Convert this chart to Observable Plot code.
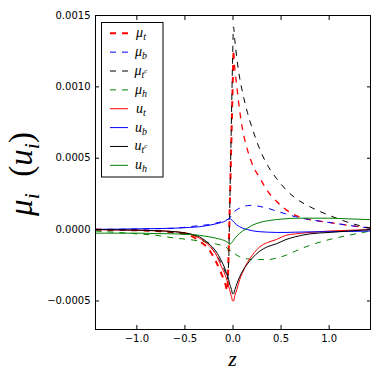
<!DOCTYPE html>
<html><head><meta charset="utf-8">
<script src="https://cdn.jsdelivr.net/npm/d3@7"></script>
<script src="https://cdn.jsdelivr.net/npm/@observablehq/plot@0.6"></script>
<style>html,body{margin:0;padding:0;background:#fff} svg{display:block}</style>
</head><body><div id="chart"></div>
<script>
// z grid shared by all series
const z = [-1.43, -1.2, -1.0, -0.8, -0.6, -0.45, -0.35, -0.25, -0.18, -0.12, -0.08, -0.06, -0.045, -0.035, -0.025, -0.015, -0.005, 0.005, 0.02, 0.04, 0.07, 0.1, 0.15, 0.2, 0.28, 0.36, 0.45, 0.55, 0.65, 0.8, 1.0, 1.2, 1.43];

const muT  = [0, -0.000003, -0.000005, -0.00001, -0.00002, -0.00004, -0.00008, -0.00014, -0.00022, -0.00031, -0.00038, -0.00043, -0.00015, 0.00012, 0.0004, 0.00068, 0.00097, 0.00124, 0.00112, 0.001, 0.00083, 0.0007, 0.00056, 0.00046, 0.00036, 0.00027, 0.0002, 0.00014, 0.0001, 0.00007, 0.00005, 0.00003, 0.00001];
const muB  = [0, 0.000002, 0.000004, 0.000006, 0.00001, 0.00002, 0.000028, 0.000035, 0.000045, 0.000055, 0.000065, 0.00007, 0.000075, 0.00008, 0.00009, 0.0001, 0.00011, 0.00012, 0.00013, 0.00014, 0.00015, 0.00016, 0.000168, 0.00017, 0.000162, 0.00015, 0.00013, 0.00011, 0.00009, 0.00007, 0.00005, 0.00003, 0.00001];
const muTc = [0, -0.000003, -0.000005, -0.00001, -0.00002, -0.00003, -0.00006, -0.00011, -0.00017, -0.00024, -0.0003, -0.00035, -0.00022, 0.00012, 0.00047, 0.00082, 0.00117, 0.00142, 0.00132, 0.0012, 0.00106, 0.00096, 0.00082, 0.00071, 0.00056, 0.00045, 0.00036, 0.00028, 0.00022, 0.00016, 0.0001, 0.00005, 0.00001];
const muH  = [-0.00001, -0.00002, -0.00003, -0.00004, -0.00006, -0.00007, -0.00008, -0.00009, -0.0001, -0.00011, -0.00012, -0.00013, -0.00014, -0.00014, -0.00015, -0.00015, -0.00016, -0.00016, -0.00017, -0.00018, -0.00019, -0.0002, -0.000205, -0.00021, -0.00021, -0.00021, -0.0002, -0.00018, -0.00015, -0.00011, -0.00007, -0.00004, -0.00001];
const uT   = [0, -0.000002, -0.000004, -0.000008, -0.000015, -0.00003, -0.00006, -0.00011, -0.00017, -0.00026, -0.00032, -0.00036, -0.0004, -0.00042, -0.00045, -0.00047, -0.0005, -0.0005, -0.00046, -0.00042, -0.00035, -0.0003, -0.00023, -0.00018, -0.00012, -0.00009, -0.00007, -0.00004, -0.00003, -0.00002, -0.00001, -0.000005, 0];
const uB   = [0.000002, 0.000003, 0.000005, 0.000007, 0.00001, 0.000015, 0.00002, 0.00003, 0.00004, 0.00005, 0.00006, 0.00007, 0.000075, 0.00008, 0.000075, 0.00007, 0.000062, 0.000055, 0.000045, 0.000032, 0.00002, 0.00001, 0, -0.000008, -0.000015, -0.000018, -0.00002, -0.00002, -0.000018, -0.000016, -0.000015, -0.000013, -0.00001];
const uTc  = [0, -0.000002, -0.000004, -0.000008, -0.000015, -0.00003, -0.00005, -0.0001, -0.00015, -0.00022, -0.00028, -0.00032, -0.00035, -0.00038, -0.0004, -0.00042, -0.00045, -0.00045, -0.00042, -0.00038, -0.00033, -0.00029, -0.00024, -0.0002, -0.00015, -0.00012, -0.0001, -0.00007, -0.00005, -0.00003, -0.00002, -0.00001, 0];
const uH   = [-0.000025, -0.000025, -0.000025, -0.000028, -0.00003, -0.000035, -0.00004, -0.00005, -0.00006, -0.00007, -0.00008, -0.000088, -0.000095, -0.000105, -0.0001, -0.000092, -0.000085, -0.000075, -0.00006, -0.000045, -0.000025, -0.00001, 0.00001, 0.00003, 0.00005, 0.000062, 0.00007, 0.000076, 0.00008, 0.00008, 0.00008, 0.000075, 0.00007];

const xTicks = [-1.0, -0.5, 0.0, 0.5, 1.0];
const yTicks = [-0.0005, 0.0, 0.0005, 0.0010, 0.0015];

// legend labels: base symbol, subscript, optional superscript on subscript
const labelBase = ["μ", "μ", "μ", "μ", "u", "u", "u", "u"];
const labelSub  = ["t", "b", "t", "h", "t", "b", "t", "h"];
const labelSup  = ["", "", "c", "", "", "", "c", ""];

const seriesValues = [muT, muB, muTc, muH, uT, uB, uTc, uH];
const seriesColor = ["#ff0000", "#0000ff", "#000000", "#008000", "#ff0000", "#0000ff", "#000000", "#008000"];
const seriesDash  = ["6,6", "6,6", "6,6", "6,6", null, null, null, null];
const seriesWidth = [2, 1, 1, 1, 1, 1, 1, 1];

const fmtY = d => (d < 0 ? "\u2212" : "") + Math.abs(d).toFixed(4);
const fmtX = d => (d < 0 ? "\u2212" : "") + Math.abs(d).toFixed(1);

const lineMarks = [];
seriesValues.forEach((vals, k) => {
  const rows = z.map((zz, i) => ({z: zz, v: vals[i]}));
  const common = {x: "z", y: "v", stroke: seriesColor[k],
    strokeDasharray: seriesDash[k] || undefined, curve: "monotone-x",
    strokeLinejoin: "round", strokeLinecap: "butt"};
  if (k === 0) {
    // the mu_t line appears heavy up to its peak and lighter on its decaying side
    const iPeak = vals.indexOf(d3.max(vals));
    lineMarks.push(Plot.line(rows.slice(0, iPeak + 1), {...common, strokeWidth: 2}));
    lineMarks.push(Plot.line(rows.slice(iPeak), {...common, strokeWidth: 1.3}));
  } else {
    lineMarks.push(Plot.line(rows, {...common, strokeWidth: seriesWidth[k]}));
  }
});

const chart = Plot.plot({
  width: 382, height: 382,
  marginLeft: 95, marginRight: 12, marginTop: 15, marginBottom: 53,
  x: {domain: [-1.43, 1.43]},
  y: {domain: [-0.0007, 0.0015]},
  style: {fontFamily: "DejaVu Sans", fontSize: "10px", background: "white", color: "black"},
  marks: [
    ...lineMarks,
    Plot.frame({stroke: "black", strokeWidth: 1}),
    Plot.axisX(xTicks, {anchor: "bottom", tickSize: 0, tickPadding: 5, tickFormat: fmtX, label: null, fontSize: 10}),
    Plot.axisY(yTicks, {anchor: "left", tickSize: 0, tickPadding: 5, tickFormat: fmtY, label: null, fontSize: 10}),
    Plot.axisX(xTicks, {anchor: "bottom", tickSize: -4, tickFormat: () => "", label: null}),
    Plot.axisX(xTicks, {anchor: "top", tickSize: -4, tickFormat: () => "", label: null}),
    Plot.axisY(yTicks, {anchor: "left", tickSize: -4, tickFormat: () => "", label: null}),
    Plot.axisY(yTicks, {anchor: "right", tickSize: -4, tickFormat: () => "", label: null})
  ]
});
document.getElementById("chart").appendChild(chart);

const svg = d3.select(chart);
const mathFont = "'Liberation Serif', serif";

// y axis label  μ_i (u_i)
const yl = svg.append("text")
  .attr("transform", "translate(32,174) rotate(-90)")
  .attr("text-anchor", "middle")
  .attr("font-family", mathFont).attr("font-size", 33).attr("font-style", "italic");
yl.append("tspan").text("μ");
yl.append("tspan").attr("font-size", 22).attr("dy", 7).text("i");
yl.append("tspan").attr("dy", -7).attr("font-style", "normal").text("\u2002(");
yl.append("tspan").text("u");
yl.append("tspan").attr("font-size", 22).attr("dy", 7).text("i");
yl.append("tspan").attr("dy", -7).attr("font-style", "normal").text(")");

// x axis label
svg.append("text").attr("x", 232.5).attr("y", 366)
  .attr("text-anchor", "middle")
  .attr("font-family", mathFont).attr("font-size", 22).attr("font-style", "italic")
  .text("z");

// legend
const lg = svg.append("g");
lg.append("rect").attr("x", 101.5).attr("y", 22.5).attr("width", 61.5).attr("height", 154.5)
  .attr("fill", "white").attr("stroke", "black").attr("stroke-width", 1);
labelBase.forEach((b, k) => {
  const y = 33.3 + k * 18.86;
  lg.append("line").attr("x1", 110).attr("x2", 128).attr("y1", y).attr("y2", y)
    .attr("stroke", seriesColor[k]).attr("stroke-width", seriesWidth[k])
    .attr("stroke-dasharray", seriesDash[k] || null);
  const t = lg.append("text").attr("x", 141).attr("y", y + 4)
    .attr("font-family", mathFont).attr("font-size", 14).attr("font-style", "italic");
  t.append("tspan").text(b);
  t.append("tspan").attr("font-size", 10).attr("dy", 3).text(labelSub[k]);
  if (labelSup[k]) t.append("tspan").attr("font-size", 7).attr("dy", -5).text(labelSup[k]);
});
</script>
</body></html>
